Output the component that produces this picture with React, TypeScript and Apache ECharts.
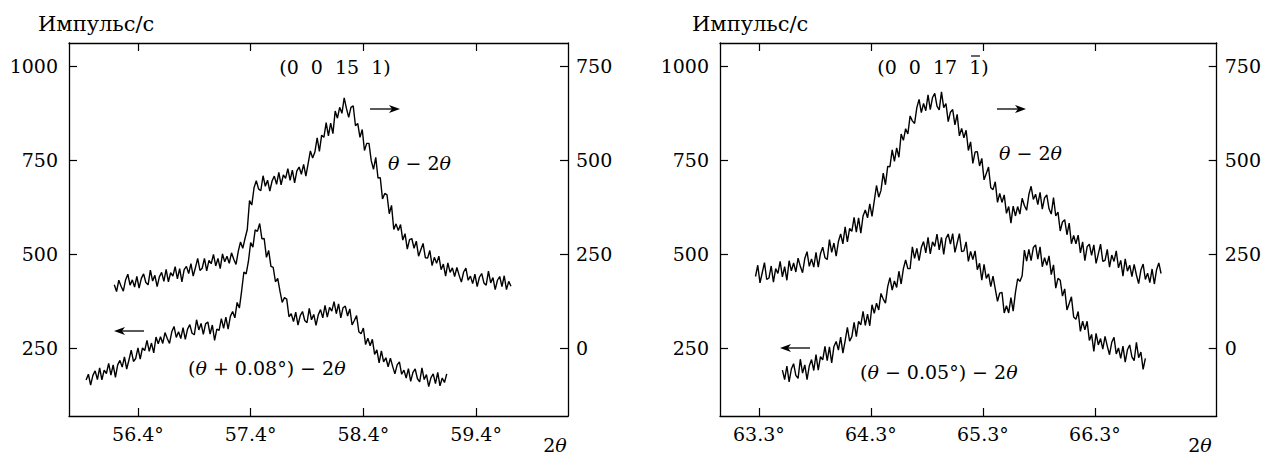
import React, { useEffect, useRef } from "react";
import * as echarts from "echarts";

// ---------- tick values ----------
const LEFT_X_TICKS = [56.4, 57.4, 58.4, 59.4];
const RIGHT_X_TICKS = [63.3, 64.3, 65.3, 66.3];
const COUNT_TICKS = [250, 500, 750, 1000];
const SHIFTED_TICKS = [0, 250, 500, 750];

// ---------- panel 1: (0 0 15 1) ----------
// θ–2θ scan, read on the right axis
const p1ThetaStart = 56.19;
const p1ThetaStep = 0.02;
const p1Theta = [
  168, 150, 180, 164, 151, 181, 196, 167, 181, 162, 190, 159, 185, 197, 174, 168, 207, 178, 193, 163,
  189, 201, 177, 209, 176, 200, 191, 216, 184, 211, 176, 208, 217, 198, 224, 191, 214, 238, 206, 212,
  238, 205, 233, 224, 249, 218, 238, 211, 250, 229, 244, 225, 253, 236, 222, 257, 282, 265, 291, 315,
  392, 380, 426, 445, 423, 418, 458, 430, 446, 417, 444, 457, 435, 467, 434, 460, 451, 477, 446, 473,
  439, 471, 481, 462, 488, 457, 490, 524, 505, 521, 559, 523, 566, 560, 599, 564, 598, 570, 630, 611,
  640, 624, 665, 637, 613, 640, 644, 591, 597, 560, 581, 525, 544, 544, 498, 475, 507, 452, 453, 396,
  411, 407, 357, 379, 315, 330, 312, 328, 287, 304, 263, 288, 291, 265, 284, 244, 261, 278, 240, 239,
  259, 219, 241, 225, 244, 208, 223, 191, 226, 201, 213, 190, 214, 193, 175, 202, 212, 180, 191, 171,
  196, 163, 188, 198, 173, 167, 204, 173, 187, 155, 180, 190, 163, 192, 155, 177, 164,
];
// (θ + 0.08°)–2θ scan, read on the left axis
const p1OffsetStart = 55.94;
const p1OffsetStep = 0.02;
const p1Offset = [
  165, 180, 151, 177, 189, 166, 197, 165, 191, 182, 209, 178, 205, 172, 205, 217, 199, 226, 194, 218,
  244, 214, 222, 250, 220, 250, 243, 270, 241, 263, 237, 279, 261, 280, 262, 291, 275, 262, 293, 307,
  278, 293, 275, 304, 273, 300, 312, 289, 285, 325, 298, 315, 286, 314, 319, 287, 311, 270, 300, 297,
  328, 302, 332, 300, 334, 347, 330, 371, 356, 402, 452, 447, 480, 530, 518, 564, 560, 581, 540, 541,
  491, 509, 467, 464, 426, 435, 401, 371, 384, 380, 333, 341, 320, 345, 311, 336, 347, 323, 317, 355,
  325, 339, 310, 338, 352, 330, 363, 332, 358, 348, 373, 341, 367, 330, 357, 361, 335, 354, 311, 323,
  336, 293, 288, 303, 259, 276, 256, 273, 233, 245, 210, 242, 213, 224, 200, 223, 201, 181, 205, 213,
  180, 191, 170, 195, 161, 185, 194, 168, 160, 197, 166, 179, 147, 171, 181, 155, 185, 149, 170, 158,
  181,
];

// ---------- panel 2: (0 0 17 -1) ----------
const p2ThetaStart = 63.27;
const p2ThetaStep = 0.02;
const p2Theta = [
  190, 220, 173, 200, 227, 182, 186, 218, 175, 211, 198, 230, 189, 216, 180, 232, 205, 226, 202, 239,
  217, 200, 238, 256, 217, 237, 215, 254, 215, 251, 268, 240, 235, 288, 254, 279, 244, 283, 303, 277,
  322, 282, 318, 310, 347, 308, 346, 305, 351, 367, 346, 383, 350, 391, 432, 401, 419, 465, 434, 483,
  482, 527, 496, 532, 507, 569, 552, 583, 569, 617, 604, 597, 639, 661, 626, 650, 631, 673, 634, 666,
  677, 643, 633, 681, 639, 650, 602, 627, 634, 593, 621, 564, 584, 559, 579, 525, 548, 491, 521, 522,
  484, 504, 447, 464, 481, 426, 421, 442, 387, 411, 387, 407, 358, 376, 332, 377, 351, 376, 356, 398,
  379, 366, 408, 430, 395, 409, 381, 414, 369, 399, 407, 370, 356, 400, 351, 361, 311, 335, 341, 301,
  332, 277, 299, 277, 300, 253, 282, 232, 269, 276, 246, 274, 225, 250, 276, 230, 233, 262, 215, 247,
  230, 258, 213, 233, 191, 237, 204, 220, 190, 222, 194, 171, 207, 223, 182, 199, 174, 210, 170, 208,
  226, 198,
];
const p2OffsetStart = 63.51;
const p2OffsetStep = 0.02;
const p2Offset = [
  191, 166, 202, 160, 194, 208, 177, 169, 220, 183, 205, 166, 202, 219, 190, 232, 191, 227, 218, 254,
  216, 253, 210, 254, 267, 244, 279, 236, 269, 305, 268, 280, 318, 280, 321, 311, 347, 310, 340, 309,
  365, 342, 369, 351, 395, 380, 369, 413, 437, 404, 428, 411, 454, 420, 461, 484, 461, 461, 519, 488,
  515, 482, 517, 533, 503, 544, 500, 532, 520, 553, 511, 544, 499, 541, 553, 526, 554, 504, 529, 554,
  506, 508, 532, 480, 507, 485, 508, 458, 475, 430, 472, 435, 447, 413, 441, 407, 374, 396, 398, 343,
  362, 343, 384, 348, 397, 434, 427, 442, 510, 481, 512, 482, 517, 524, 486, 519, 466, 490, 470, 495,
  445, 471, 409, 435, 430, 388, 407, 351, 368, 386, 332, 326, 347, 294, 321, 298, 321, 270, 286, 241,
  289, 258, 275, 247, 281, 255, 232, 265, 278, 234, 250, 222, 255, 212, 245, 258, 226, 216, 265, 224,
  239, 193, 222,
];

const FONT = "DejaVu Serif";
const FS = 19;

function pairs(x0: number, step: number, ys: number[]) {
  return ys.map((y, i) => [+(x0 + i * step).toFixed(4), y]);
}

const AXIS_LINE = { show: true, onZero: false, lineStyle: { color: "#000", width: 1.3 } };
const tickStyle = (values: number[]) => ({
  show: true,
  inside: true,
  length: 8,
  customValues: values,
  lineStyle: { color: "#000", width: 1.2 },
});

const labelBase = { color: "#000", fontFamily: FONT, fontSize: FS };

function xAxisPair(gridIndex: number, min: number, max: number, ticks: number[]) {
  return [
    {
      type: "value",
      gridIndex,
      min,
      max,
      position: "bottom",
      axisLine: AXIS_LINE,
      axisTick: tickStyle(ticks),
      axisLabel: {
        ...labelBase,
        show: true,
        customValues: ticks,
        margin: 8,
        formatter: (v: number) => v.toFixed(1) + "°",
      },
      splitLine: { show: false },
    },
    {
      type: "value",
      gridIndex,
      min,
      max,
      position: "top",
      axisLine: AXIS_LINE,
      axisTick: tickStyle(ticks),
      axisLabel: { show: false },
      splitLine: { show: false },
    },
  ];
}

function yAxisPair(gridIndex: number) {
  const common = {
    type: "value",
    gridIndex,
    axisLine: AXIS_LINE,
    splitLine: { show: false },
  };
  return [
    {
      ...common,
      position: "left",
      min: 69,
      max: 1061,
      axisTick: tickStyle(COUNT_TICKS),
      axisLabel: { ...labelBase, customValues: COUNT_TICKS, margin: 11, formatter: (v: number) => String(v) },
    },
    {
      ...common,
      position: "right",
      min: -181,
      max: 811,
      axisTick: tickStyle(SHIFTED_TICKS),
      axisLabel: { ...labelBase, customValues: SHIFTED_TICKS, margin: 8, formatter: (v: number) => String(v) },
    },
  ];
}

const rich = {
  i: { fontStyle: "italic", fontFamily: FONT, fontSize: FS, fill: "#000" },
};

function txt(text: string, x: number, y: number, align: string = "left", useRich = false, size = FS) {
  return {
    type: "text",
    x,
    y,
    silent: true,
    style: {
      text,
      fill: "#000",
      fontFamily: FONT,
      fontSize: size,
      align,
      verticalAlign: "middle",
      ...(useRich ? { rich } : {}),
    },
  };
}

function arrow(x1: number, x2: number, y: number) {
  const dir = x2 > x1 ? 1 : -1;
  return {
    type: "group",
    silent: true,
    children: [
      { type: "line", shape: { x1, y1: y, x2: x2 - dir * 6, y2: y }, style: { stroke: "#000", lineWidth: 1.3 } },
      {
        type: "polygon",
        shape: { points: [[x2, y], [x2 - dir * 11, y - 4], [x2 - dir * 8, y], [x2 - dir * 11, y + 4]] },
        style: { fill: "#000" },
      },
    ],
  };
}

export default function App() {
  const ref = useRef<HTMLDivElement>(null);
  useEffect(() => {
    if (!ref.current) return;
    const chart = echarts.init(ref.current, undefined, { renderer: "svg" });
    const line = (xAxisIndex: number, yAxisIndex: number, data: number[][]) => ({
      type: "line",
      xAxisIndex,
      yAxisIndex,
      data,
      showSymbol: false,
      symbol: "none",
      lineStyle: { color: "#000", width: 1.4 },
      silent: true,
    });
    chart.setOption({
      animation: false,
      backgroundColor: "#fff",
      textStyle: { fontFamily: FONT },
      grid: [
        { left: 69, top: 43, width: 499, height: 373 },
        { left: 720, top: 43, width: 499, height: 373 },
      ],
      xAxis: [
        ...xAxisPair(0, 55.788, 60.216, LEFT_X_TICKS),
        ...xAxisPair(1, 62.953, 67.387, RIGHT_X_TICKS),
      ],
      yAxis: [...yAxisPair(0), ...yAxisPair(1)],
      series: [
        line(0, 1, pairs(p1ThetaStart, p1ThetaStep, p1Theta)),
        line(0, 0, pairs(p1OffsetStart, p1OffsetStep, p1Offset)),
        line(2, 3, pairs(p2ThetaStart, p2ThetaStep, p2Theta)),
        line(2, 2, pairs(p2OffsetStart, p2OffsetStep, p2Offset)),
      ],
      graphic: [
        txt("Импульс/с", 38, 24, "left", false, 21),
        txt("Импульс/с", 692, 24, "left", false, 21),
        txt("2{i|θ}", 555, 445, "center", true),
        txt("2{i|θ}", 1200, 445, "center", true),
        txt("(0  0  15  1)", 335, 67, "center"),
        txt("(0  0  17  1)", 933, 67, "center"),
        { type: "line", silent: true, shape: { x1: 971, y1: 56, x2: 980, y2: 56 }, style: { stroke: "#000", lineWidth: 1.2 } },
        txt("{i|θ} − 2{i|θ}", 388, 163, "left", true),
        txt("{i|θ} − 2{i|θ}", 999, 153, "left", true),
        txt("({i|θ} + 0.08°) − 2{i|θ}", 188, 368, "left", true),
        txt("({i|θ} − 0.05°) − 2{i|θ}", 860, 372, "left", true),
        arrow(370, 400, 109),
        arrow(144, 114, 331),
        arrow(997, 1026, 109),
        arrow(810, 780, 348),
      ],
    });
    return () => chart.dispose();
  }, []);
  return (
    <div
      ref={ref}
      style={{ position: "fixed", left: 0, top: 0, width: 1264, height: 459, background: "#fff" }}
    />
  );
}
